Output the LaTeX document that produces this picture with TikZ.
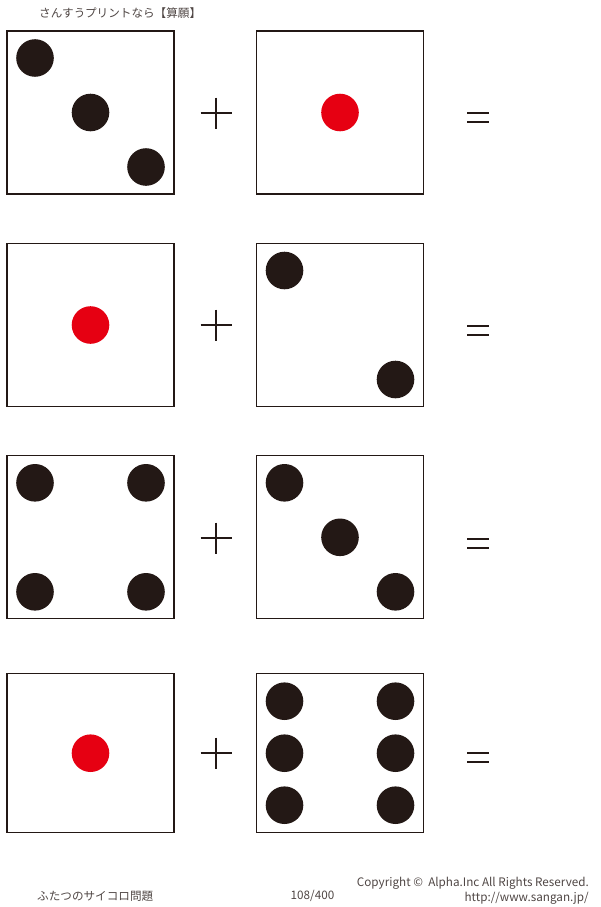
\documentclass[tikz,border=0pt]{standalone}
\usepackage{fontspec}
\setmainfont{Noto Sans CJK JP}
\usetikzlibrary{calc}
\definecolor{inkblack}{HTML}{231815}
\definecolor{inkred}{HTML}{E60012}
\newcommand{\addmark}[1]{\draw[sign] ($(#1)+(-15.5,0)$) -- ($(#1)+(15.5,0)$) ($(#1)+(0,-15.5)$) -- ($(#1)+(0,15.5)$);}
\newcommand{\eqmark}[1]{\draw[sign] ($(#1)+(-11,-4.5)$) -- ($(#1)+(11,-4.5)$) ($(#1)+(-11,4.5)$) -- ($(#1)+(11,4.5)$);}
\begin{document}
\begin{tikzpicture}[x=1pt, y=-1pt,
	diebox/.style={draw=inkblack, line width=1.1pt, minimum width=167pt, minimum height=163pt, inner sep=0pt, outer sep=0pt},
	pip/.style={fill=inkblack},
	redpip/.style={fill=inkred},
	sign/.style={draw=inkblack, line width=2pt},
	label/.style={text=inkblack!80, inner sep=0pt, font=\fontsize{11.6}{13}\selectfont},
	latin/.style={label, font=\fontsize{11.7}{13}\selectfont}]
	\useasboundingbox (0,0) rectangle (600,907);
	% header
	\node[label, anchor=west] (head) at (39,13) {さんすうプリントなら【算願】};
	% row 1: three + one
	\node[diebox] (a1) at (90.5,112.5) {};
	\node[diebox] (b1) at (340,112.5) {};
	\foreach \dx/\dy in {-55.5/-54.5, 0/0, 55.5/54.5}
		\fill[pip] ($(a1)+(\dx,\dy)$) circle[radius=18.8pt];
	\fill[redpip] (b1) circle[radius=18.8pt];
	\coordinate (plus1) at (216,113);
	\coordinate (eq1) at (478,117.5);
	\addmark{plus1}
	\eqmark{eq1}
	% row 2: one + two
	\node[diebox] (a2) at (90.5,325) {};
	\node[diebox] (b2) at (340,325) {};
	\fill[redpip] (a2) circle[radius=18.8pt];
	\foreach \dx/\dy in {-55.5/-54.5, 55.5/54.5}
		\fill[pip] ($(b2)+(\dx,\dy)$) circle[radius=18.8pt];
	\coordinate (plus2) at (216,325);
	\coordinate (eq2) at (478,330.5);
	\addmark{plus2}
	\eqmark{eq2}
	% row 3: four + three
	\node[diebox] (a3) at (90.5,537.3) {};
	\node[diebox] (b3) at (340,537.3) {};
	\foreach \dx/\dy in {-55.5/-54.5, 55.5/-54.5, -55.5/54.5, 55.5/54.5}
		\fill[pip] ($(a3)+(\dx,\dy)$) circle[radius=18.8pt];
	\foreach \dx/\dy in {-55.5/-54.5, 0/0, 55.5/54.5}
		\fill[pip] ($(b3)+(\dx,\dy)$) circle[radius=18.8pt];
	\coordinate (plus3) at (216,538);
	\coordinate (eq3) at (478,543.5);
	\addmark{plus3}
	\eqmark{eq3}
	% row 4: one + six
	\node[diebox, minimum height=159pt] (a4) at (90.5,753.2) {};
	\node[diebox, minimum height=159pt] (b4) at (340,753.2) {};
	\fill[redpip] (a4) circle[radius=18.8pt];
	\foreach \dx in {-55.5, 55.5}
		\foreach \dy in {-52, 0, 52}
			\fill[pip] ($(b4)+(\dx,\dy)$) circle[radius=18.8pt];
	\coordinate (plus4) at (216,753);
	\coordinate (eq4) at (478,757.5);
	\addmark{plus4}
	\eqmark{eq4}
	% footer
	\node[label, anchor=west] (title) at (37,896) {ふたつのサイコロ問題};
	\node[latin] (page) at (312.5,896) {108/400};
	\node[latin, anchor=east] (copy) at (589,883) {Copyright ©\ \ Alpha.Inc All Rights Reserved.};
	\node[latin, anchor=east] (site) at (589,898) {http://www.sangan.jp/};
\end{tikzpicture}
\end{document}
